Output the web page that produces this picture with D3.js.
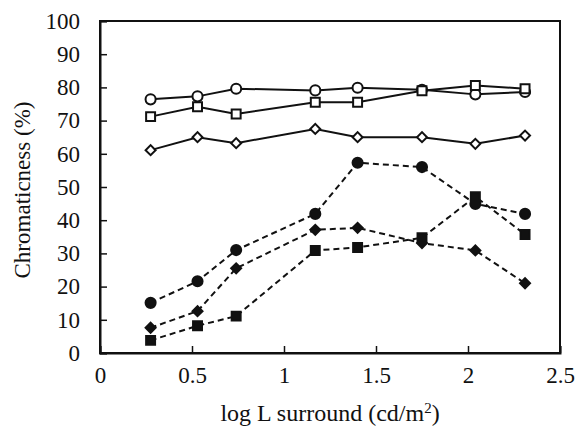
<!DOCTYPE html>
<html lang="en">
<head>
<meta charset="UTF-8">
<title>Chromaticness vs log L surround</title>
<script src="https://d3js.org/d3.v7.min.js"></script>
<style>
  body { margin: 0; background: #fff; }
  text { font-family: "Liberation Serif", "Times New Roman", serif; fill: #111; }
  .domain, .tick line { stroke: #111; }
</style>
</head>
<body>
<script>
  // log L surround values (x) shared by all series
  var logL = [0.275, 0.53, 0.74, 1.17, 1.40, 1.75, 2.04, 2.31];

  // open markers, solid lines
  var openCircle  = [76.4, 77.3, 79.6, 79.1, 79.9, 79.3, 77.9, 78.6];
  var openSquare  = [71.2, 74.2, 72.0, 75.5, 75.5, 79.0, 80.6, 79.6];
  var openDiamond = [61.1, 65.0, 63.2, 67.5, 65.0, 65.0, 63.0, 65.5];

  // filled markers, dashed lines
  var fillCircle  = [15.1, 21.6, 31.0, 41.9, 57.3, 56.0, 44.9, 41.9];
  var fillDiamond = [7.6, 12.6, 25.5, 37.1, 37.7, 33.1, 30.9, 21.0];
  var fillSquare  = [3.8, 8.2, 11.1, 30.9, 31.8, 34.7, 47.1, 35.7];

  var xTicks = [0, 0.5, 1, 1.5, 2, 2.5];
  var yTicks = [0, 10, 20, 30, 40, 50, 60, 70, 80, 90, 100];

  var series = [
    {values: openCircle,  shape: "circle",  filled: false},
    {values: openSquare,  shape: "square",  filled: false},
    {values: openDiamond, shape: "diamond", filled: false},
    {values: fillCircle,  shape: "circle",  filled: true},
    {values: fillDiamond, shape: "diamond", filled: true},
    {values: fillSquare,  shape: "square",  filled: true}
  ];

  var margin = {top: 21, left: 100};

  var svg = d3.select("body").append("svg")
      .attr("width", 575)
      .attr("height", 433);

  var g = svg.append("g")
      .attr("transform", "translate(" + margin.left + "," + margin.top + ")");

  var x = d3.scaleLinear().domain([0, 2.5]).range([0, 460]);
  var y = d3.scaleLinear().domain([0, 100]).range([332, 0]);

  // box around the plot
  g.append("rect")
      .attr("width", x(2.5))
      .attr("height", y(0))
      .attr("fill", "none")
      .attr("stroke", "#111")
      .attr("stroke-width", 2);

  var xAxis = g.append("g")
      .attr("transform", "translate(0," + y(0) + ")")
      .call(d3.axisBottom(x).tickValues(xTicks).tickSize(-7).tickPadding(14)
        .tickFormat(d3.format("")));
  xAxis.selectAll("text").style("font-size", "23px");

  var yAxis = g.append("g")
      .call(d3.axisLeft(y).tickValues(yTicks).tickSize(-7).tickPadding(20));
  yAxis.selectAll("text").style("font-size", "23px");

  g.selectAll(".domain").attr("stroke-width", 2);
  g.selectAll(".tick line").attr("stroke-width", 1.5);

  var line = d3.line()
    .x(function(d, i) { return x(logL[i]); })
    .y(function(d) { return y(d); });

  series.forEach(function(s) {
    g.append("path")
      .datum(s.values)
      .attr("fill", "none")
      .attr("stroke", "#111")
      .attr("stroke-width", 2)
      .attr("stroke-dasharray", s.filled ? "6,4" : null)
      .attr("d", line);
  });

  // diamonds are squares turned by 45 degrees
  var symType = {circle: d3.symbolCircle, square: d3.symbolSquare, diamond: d3.symbolSquare};
  var symSize = {circle: 80, square: 80, diamond: 50};

  series.forEach(function(s) {
    g.append("g").selectAll("path")
      .data(s.values)
      .join("path")
        .attr("transform", function(d, i) {
          return "translate(" + x(logL[i]) + "," + y(d) + ")" +
            (s.shape === "diamond" ? " rotate(45)" : "");
        })
        .attr("d", d3.symbol().type(symType[s.shape]).size(symSize[s.shape]))
        .attr("fill", s.filled ? "#111" : "#fff")
        .attr("stroke", "#111")
        .attr("stroke-width", 2);
  });

  // axis titles
  var xt = svg.append("text")
      .attr("x", 330)
      .attr("y", 421)
      .attr("text-anchor", "middle")
      .style("font-size", "24px")
      .text("log L surround (cd/m");
  xt.append("tspan")
      .attr("dy", -8)
      .style("font-size", "15px")
      .text("2");
  xt.append("tspan")
      .attr("dy", 8)
      .text(")");

  svg.append("text")
      .attr("transform", "translate(30,190) rotate(-90)")
      .attr("text-anchor", "middle")
      .style("font-size", "23px")
      .text("Chromaticness (%)");
</script>
</body>
</html>
